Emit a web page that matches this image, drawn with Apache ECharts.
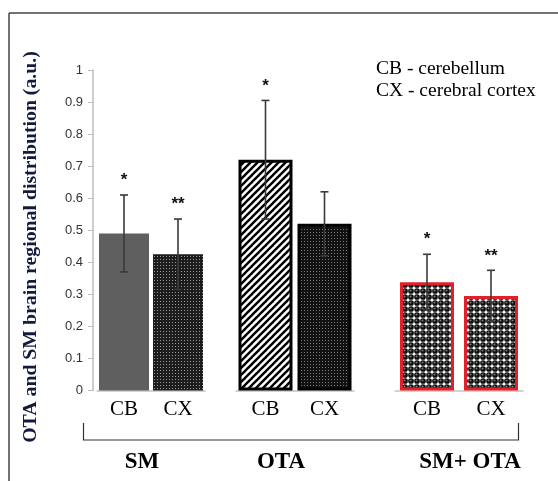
<!DOCTYPE html>
<html>
<head>
<meta charset="utf-8">
<script src="https://cdn.jsdelivr.net/npm/echarts@6/dist/echarts.min.js"></script>
<style>
html,body{margin:0;padding:0;background:#fff;}
#chart{width:558px;height:481px;}
</style>
</head>
<body>
<div id="chart"></div>
<script>
// ---- data ----
const categories = ['CB', 'CX'];
const groups = ['SM', 'OTA', 'SM+ OTA'];
const meansSM = [0.49, 0.425];
const meansOTA = [0.72, 0.52];
const meansSMOTA = [0.338, 0.295];
const errSM = [0.12, 0.11];
const errOTA = [0.185, 0.10];
const errSMOTA = [0.087, 0.08];
const sigSM = ['*', '**'];
const sigOTA = ['*', ''];
const sigSMOTA = ['*', '**'];
const legendLines = ['CB - cerebellum', 'CX - cerebral cortex'];
const yTitle = 'OTA and SM brain regional distribution (a.u.)';
const yMin = 0, yMax = 1, yStep = 0.1;

const means = [meansSM, meansOTA, meansSMOTA];
const errs = [errSM, errOTA, errSMOTA];
const sigs = [sigSM, sigOTA, sigSMOTA];

// ---- patterns ----
function makeCanvas(w, h, draw) {
  const c = document.createElement('canvas');
  c.width = w; c.height = h;
  draw(c.getContext('2d'), w, h);
  return c;
}
const dotPattern = makeCanvas(3, 3, (ctx) => {
  ctx.fillStyle = '#1c1c1c'; ctx.fillRect(0, 0, 3, 3);
  ctx.fillStyle = '#9a9a9a'; ctx.fillRect(1, 1, 1, 1);
});
const dotPatternDark = makeCanvas(3, 3, (ctx) => {
  ctx.fillStyle = '#121212'; ctx.fillRect(0, 0, 3, 3);
  ctx.fillStyle = '#7a7a7a'; ctx.fillRect(1, 1, 1, 1);
});
const stripePattern = makeCanvas(7, 7, (ctx, w, h) => {
  ctx.fillStyle = '#fff'; ctx.fillRect(0, 0, w, h);
  ctx.strokeStyle = '#000'; ctx.lineWidth = 2.4;
  for (let k = -1; k <= 1; k++) {
    ctx.beginPath();
    ctx.moveTo(k * w - 1, h + 1);
    ctx.lineTo(k * w + w + 1, -1);
    ctx.stroke();
  }
});
const spherePattern = makeCanvas(6, 6, (ctx) => {
  ctx.fillStyle = '#fff'; ctx.fillRect(0, 0, 6, 6);
  const g = ctx.createRadialGradient(2.3, 2.3, 0.2, 3, 3, 2.9);
  g.addColorStop(0, '#8a8a8a');
  g.addColorStop(0.4, '#1a1a1a');
  g.addColorStop(1, '#000');
  ctx.fillStyle = g;
  ctx.beginPath(); ctx.arc(3, 3, 2.85, 0, Math.PI * 2); ctx.fill();
});
const pat = (c) => ({ image: c, repeat: 'repeat' });

const itemStyles = [
  [{ color: '#5f5f5f' }, { color: pat(dotPattern) }],
  [{ color: pat(stripePattern), borderColor: '#000', borderWidth: 3 },
   { color: pat(dotPatternDark), borderColor: '#000', borderWidth: 3 }],
  [{ color: pat(spherePattern), borderColor: '#e3202a', borderWidth: 3 },
   { color: pat(spherePattern), borderColor: '#e3202a', borderWidth: 3 }]
];

// ---- layout ----
const gridBoxes = [
  { left: 97, width: 108 },
  { left: 236, width: 118 },
  { left: 395, width: 128 }
];
const barWidths = [50, 54, 54];
const gridTop = 70, gridBottom = 90.5;
const groupLabelX = [142, 281, 470];

const grid = gridBoxes.map(b => ({ left: b.left, width: b.width, top: gridTop, bottom: gridBottom }));

const xAxis = gridBoxes.map((b, g) => ({
  type: 'category', gridIndex: g, data: categories,
  axisLine: { show: true, lineStyle: { color: '#c4c4c4', width: 1.5 } },
  axisTick: { show: false },
  axisLabel: { fontFamily: 'Liberation Serif', fontSize: 21, color: '#000', margin: 8 }
}));

const yAxis = gridBoxes.map((b, g) => ({
  type: 'value', gridIndex: g, min: yMin, max: yMax, interval: yStep,
  show: g === 0, offset: 4,
  splitLine: { show: false },
  axisLine: { show: true, lineStyle: { color: '#bdbdbd', width: 1.5 } },
  axisTick: { show: true, length: 5, lineStyle: { color: '#bdbdbd' } },
  axisLabel: { fontFamily: 'Liberation Sans', fontSize: 13, color: '#333', margin: 10 }
}));

const series = [];
means.forEach((m, g) => {
  series.push({
    type: 'bar', xAxisIndex: g, yAxisIndex: g, barWidth: barWidths[g],
    data: m.map((v, i) => ({ value: v, itemStyle: itemStyles[g][i] })),
    z: 2
  });
  series.push({
    type: 'custom', xAxisIndex: g, yAxisIndex: g, z: 5,
    data: m.map((v, i) => [i, v, errs[g][i]]),
    renderItem: function (params, api) {
      const i = api.value(0), v = api.value(1), e = api.value(2);
      const top = api.coord([i, v + e]);
      const bot = api.coord([i, v - e]);
      const x = top[0];
      const st = { stroke: '#3a3a3a', lineWidth: 1.6 };
      const s = sigs[g][params.dataIndex];
      return {
        type: 'group',
        children: [
          { type: 'line', shape: { x1: x, y1: top[1], x2: x, y2: bot[1] }, style: st },
          { type: 'line', shape: { x1: x - 4, y1: top[1], x2: x + 4, y2: top[1] }, style: st },
          { type: 'line', shape: { x1: x - 4, y1: bot[1], x2: x + 4, y2: bot[1] }, style: st },
          { type: 'text', x: x, y: top[1] - 6,
            style: { text: s, fill: '#111', font: 'bold 17px "Liberation Sans"', align: 'center', verticalAlign: 'bottom' } }
        ]
      };
    }
  });
});

const graphic = [
  // frame
  { type: 'line', shape: { x1: 9, y1: 13, x2: 558, y2: 13 }, style: { stroke: '#444', lineWidth: 1.5 } },
  { type: 'line', shape: { x1: 9, y1: 13, x2: 9, y2: 481 }, style: { stroke: '#444', lineWidth: 1.5 } },
  // bracket
  { type: 'polyline', shape: { points: [[83.5, 423], [83.5, 440], [518.5, 440], [518.5, 423]] }, style: { stroke: '#333', lineWidth: 1.2, fill: null } },
  // y title
  { type: 'text', x: 31, y: 247, rotation: Math.PI / 2,
    style: { text: yTitle, fill: '#131a3e', font: 'bold 19.8px "Liberation Serif"', align: 'center', verticalAlign: 'middle' } }
];
groups.forEach((t, g) => {
  graphic.push({ type: 'text', x: groupLabelX[g], y: 462,
    style: { text: t, fill: '#000', font: 'bold 23px "Liberation Serif"', align: 'center', verticalAlign: 'middle' } });
});
legendLines.forEach((t, k) => {
  graphic.push({ type: 'text', x: 376, y: 69 + k * 22,
    style: { text: t, fill: '#000', font: '19.5px "Liberation Serif"', align: 'left', verticalAlign: 'middle' } });
});

const chart = echarts.init(document.getElementById('chart'), null, { renderer: 'canvas' });
chart.setOption({
  animation: false,
  backgroundColor: '#fff',
  grid, xAxis, yAxis, series, graphic
});
</script>
</body>
</html>
